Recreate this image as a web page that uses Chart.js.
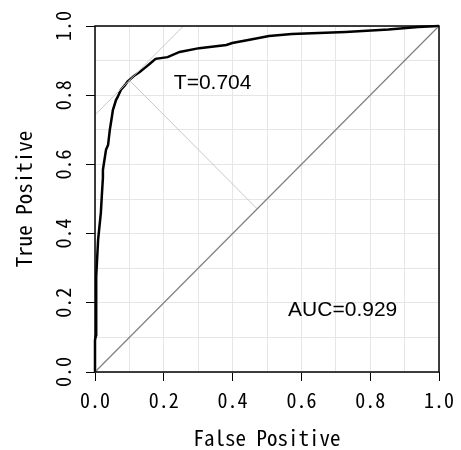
<!DOCTYPE html>
<html>
<head>
<meta charset="utf-8">
<script src="https://cdn.jsdelivr.net/npm/chart.js@4.4.1/dist/chart.umd.min.js"></script>
<style>
  html, body { margin: 0; padding: 0; background: #fff; }
  #wrap { width: 461px; height: 450px; }
</style>
</head>
<body>
<div id="wrap"><canvas id="rocChart"></canvas></div>
<script>
/* DATA */
const fpr = [0, 0, 0.003, 0.003, 0.004, 0.009, 0.017, 0.020, 0.023, 0.023, 0.032, 0.038, 0.043, 0.049, 0.052, 0.061, 0.066, 0.075, 0.087, 0.095, 0.101, 0.116, 0.130, 0.145, 0.162, 0.176, 0.211, 0.246, 0.303, 0.382, 0.399, 0.457, 0.506, 0.572, 0.728, 0.853, 0.939, 1];
const tpr = [0, 0.092, 0.107, 0.179, 0.275, 0.382, 0.460, 0.512, 0.561, 0.584, 0.642, 0.656, 0.699, 0.737, 0.757, 0.786, 0.795, 0.815, 0.829, 0.840, 0.845, 0.858, 0.867, 0.879, 0.893, 0.905, 0.910, 0.925, 0.936, 0.945, 0.951, 0.962, 0.971, 0.977, 0.983, 0.990, 0.997, 1];

const diagX = [0, 1];
const diagY = [0, 1];
const tangentX = [0, 0.257];
const tangentY = [0.743, 1.0];
const normalX = [0.100, 0.4715];
const normalY = [0.843, 0.4715];

const labelThreshold = "T=0.704";
const labelAuc = "AUC=0.929";
const thresholdAt = [0.342, 0.835];
const aucAt = [0.72, 0.178];

const xTitle = "False Positive";
const yTitle = "True Positive";

/* HELPERS */
const pts = (xs, ys) => xs.map((v, i) => ({ x: v, y: ys[i] }));
const monoFont = '"Noto Sans Mono CJK JP", "Liberation Mono", monospace';

const lineSet = (xs, ys, color, width) => ({
    data: pts(xs, ys),
    showLine: true,
    borderColor: color,
    borderWidth: width,
    pointRadius: 0,
    tension: 0,
    clip: false
});

/* PLUGIN: box + text labels */
const boxAndText = {
    id: "boxAndText",
    afterDatasetsDraw(chart) {
        const { ctx, chartArea: a, scales: { x, y } } = chart;
        ctx.save();
        ctx.strokeStyle = "#000";
        ctx.lineWidth = 1.5;
        ctx.strokeRect(a.left, a.top, a.right - a.left, a.bottom - a.top);

        ctx.fillStyle = "#000";
        ctx.font = '21px "Liberation Sans", Arial, sans-serif';
        ctx.textAlign = "center";
        ctx.textBaseline = "middle";
        ctx.fillText(labelThreshold, x.getPixelForValue(thresholdAt[0]), y.getPixelForValue(thresholdAt[1]));
        ctx.fillText(labelAuc, x.getPixelForValue(aucAt[0]), y.getPixelForValue(aucAt[1]));
        ctx.restore();
    }
};

const gridOpts = {
    color: "#e6e6e6",
    lineWidth: 1,
    tickLength: 9,
    tickColor: c => (c.index % 2 === 0 ? "#000" : "rgba(0,0,0,0)"),
    tickWidth: 1
};

const tickLabel = (v, i) => (i % 2 === 0 ? Number(v).toFixed(1) : "");

/* CHART */
new Chart(document.getElementById("rocChart"), {
    type: "scatter",
    data: {
        datasets: [
            lineSet(diagX, diagY, "#7f7f7f", 1.2),
            lineSet(tangentX, tangentY, "#c8c8c8", 1),
            lineSet(normalX, normalY, "#c8c8c8", 1),
            lineSet(fpr, tpr, "#000000", 2.5)
        ]
    },
    options: {
        responsive: true,
        maintainAspectRatio: false,
        animation: false,
        layout: { padding: { top: 26, right: 20, left: 0, bottom: 0 } },
        plugins: { legend: { display: false }, tooltip: { enabled: false } },
        scales: {
            x: {
                type: "linear",
                min: 0, max: 1,
                border: { display: false },
                grid: gridOpts,
                ticks: {
                    stepSize: 0.1,
                    autoSkip: false,
                    maxRotation: 0,
                    padding: 7,
                    color: "#000",
                    font: { family: monoFont, size: 20 },
                    callback: tickLabel
                },
                title: {
                    display: true,
                    text: xTitle,
                    color: "#000",
                    font: { family: monoFont, size: 21, lineHeight: 1 },
                    padding: { top: 0, bottom: 1 }
                },
                afterFit: s => { s.height = 78; }
            },
            y: {
                type: "linear",
                min: 0, max: 1,
                border: { display: false },
                grid: gridOpts,
                ticks: {
                    stepSize: 0.1,
                    autoSkip: false,
                    minRotation: 90,
                    maxRotation: 90,
                    crossAlign: "center",
                    padding: 8,
                    color: "#000",
                    font: { family: monoFont, size: 20 },
                    callback: tickLabel
                },
                title: {
                    display: true,
                    text: yTitle,
                    color: "#000",
                    font: { family: monoFont, size: 21, lineHeight: 1 },
                    padding: { top: 13.5, bottom: 0 }
                },
                afterFit: s => { s.width = 95; }
            }
        }
    },
    plugins: [boxAndText]
});
</script>
</body>
</html>
